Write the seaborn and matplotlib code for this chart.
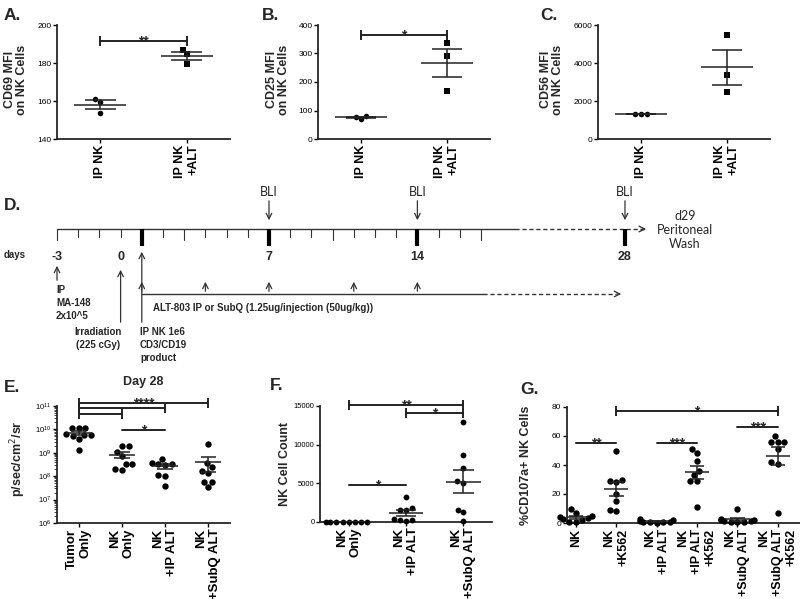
import numpy as np
import pandas as pd
import matplotlib
matplotlib.use('Agg')
import matplotlib.pyplot as plt
import seaborn as sns

# ---- data ----
ab_groups = ['IP NK', 'IP NK\n+ALT']
cd69_ctrl = [160.9, 159.7, 153.6]
cd69_alt = [187.0, 184.9, 179.7]
cd25_ctrl = [79, 70, 78]
cd25_alt = [336, 291, 170]
cd56_ctrl = [1300, 1290, 1310]
cd56_alt = [5480, 3360, 2450]

e_groups = ['Tumor\nOnly', 'NK\nOnly', 'NK\n+IP ALT', 'NK\n+SubQ ALT']
bli_tumor = [1.15e10, 1.1e10, 1.2e10, 5.5e9, 5.8e9, 6.2e9, 5.2e9, 4.0e9, 1.3e9]
bli_nk = [1.9e9, 1.9e9, 1.1e9, 7.5e8, 3.2e8, 3.2e8, 1.9e8, 2.0e8]
bli_ip = [5.5e8, 3.3e8, 3.2e8, 3.1e8, 3.5e8, 1.1e8, 1.0e8, 3.7e7]
bli_subq = [2.3e9, 3.7e8, 2.4e8, 1.6e8, 1.4e8, 5.5e7, 5.5e7, 3.3e7]

f_groups = ['NK\nOnly', 'NK\n+IP ALT', 'NK\n+SubQ ALT']
count_nk = [0, 0, 0, 0, 0, 0, 0, 0]
count_ip = [3200, 1600, 1600, 1750, 200, 100, 200, 450]
count_subq = [12930, 8660, 6940, 5040, 5260, 1600, 1290, 90]

g_groups = ['NK', 'NK\n+K562', 'NK\n+IP ALT', 'NK\n+IP ALT\n+K562',
            'NK\n+SubQ ALT', 'NK\n+SubQ ALT\n+K562']
cd107_nk = [10, 7, 4.5, 4, 3.5, 3, 2, 1, 0.5]
cd107_nk_k = [50, 30, 29, 28, 20, 15, 9, 8]
cd107_ip = [3, 2, 1.5, 1, 1, 0.5, 0.5, 0.3]
cd107_ip_k = [51, 48, 43, 36, 33, 29, 29, 11]
cd107_sq = [10, 2.5, 2, 2, 1.5, 1.5, 1, 1, 0.5]
cd107_sq_k = [60, 56, 56, 56, 51, 42, 41, 7]

# timeline
tick_days = list(range(-3, 18))
thick_days = [1, 7, 14]
tall_days = [-3, 3, 10, 17]
alt_days = [1, 4, 7, 11, 14]

sns.set_style('ticks')
plt.rcParams['font.family'] = ['Liberation Sans', 'DejaVu Sans']

W, H = 800, 599
fig = plt.figure(figsize=(8, 5.99), dpi=100)


def px_axes(l, t, r, b):
    return fig.add_axes([l / W, 1 - b / H, (r - l) / W, (b - t) / H])


def mean_sem(ax, vals, i, hw=0.3, cw=0.18):
    m = np.mean(vals)
    s = np.std(vals, ddof=1) / np.sqrt(len(vals))
    ax.hlines(m, i - hw, i + hw, color='#222222', lw=1.1, zorder=4)
    ax.vlines(i, m - s, m + s, color='#222222', lw=1.1, zorder=4)
    ax.hlines([m - s, m + s], i - cw, i + cw, color='#222222', lw=1.1, zorder=4)


def dot_panel(ax, groups, series, markers, size, log=False):
    df = pd.DataFrame({'group': np.repeat(groups, [len(s) for s in series]),
                       'value': np.concatenate(series)})
    for g, m in zip(groups, markers):
        sns.swarmplot(data=df[df.group == g], x='group', y='value', order=groups,
                      marker=m, color='k', size=size, ax=ax, clip_on=False,
                      log_scale=(False, True) if log else None, zorder=3)
    for i, s in enumerate(series):
        mean_sem(ax, s, i)


def style(ax, groups, fs_x=9, fs_y=6):
    sns.despine(ax=ax)
    for sp in ['left', 'bottom']:
        ax.spines[sp].set_linewidth(1.3)
    ax.set_xticks(range(len(groups)))
    ax.set_xticklabels(groups, rotation=90, fontsize=fs_x, fontweight='bold')
    for lab in ax.get_xticklabels():
        lab.set_multialignment('right')
    ax.tick_params(axis='both', length=3, width=1, colors='k', pad=1)
    ax.tick_params(axis='y', labelsize=fs_y)
    ax.set_xlabel('')


def bracket(ax, x1, x2, y, text, caps=True, fs=10):
    ax.plot([x1, x2], [y, y], color='#222222', lw=1.4, clip_on=False,
            marker='|' if caps else None, markersize=7, mew=1.4, zorder=5)
    if text:
        ax.annotate(text, ((x1 + x2) / 2, y), xytext=(0, -3.2), textcoords='offset points',
                    ha='center', va='baseline', fontsize=fs, fontweight='bold',
                    annotation_clip=False)


# ---- A, B, C ----
top_specs = [
    (57, 230, cd69_ctrl, cd69_alt, (140, 200), [140, 160, 180, 200], 'CD69 MFI\non NK Cells', '**', 191.7, -0.165),
    (318, 490, cd25_ctrl, cd25_alt, (0, 400), [0, 100, 200, 300, 400], 'CD25 MFI\non NK Cells', '*', 365, -0.165),
    (598, 770, cd56_ctrl, cd56_alt, (0, 6000), [0, 2000, 4000, 6000], 'CD56 MFI\non NK Cells', None, None, -0.2),
]
for l, r, ctrl, alt, ylim, yt, ylab, star, sy, lx in top_specs:
    ax = px_axes(l, 25, r, 139)
    dot_panel(ax, ab_groups, [ctrl, alt], ['o', 's'], 4)
    ax.set_ylim(*ylim)
    ax.set_yticks(yt)
    ax.set_xlim(-0.5, 1.5)
    style(ax, ab_groups)
    ax.set_ylabel(ylab, fontsize=9, fontweight='bold', linespacing=1.0)
    ax.yaxis.set_label_coords(lx, 0.52)
    if star:
        bracket(ax, 0, 1, sy, star)

# ---- E ----
ax = px_axes(57, 406, 230, 523)
dot_panel(ax, e_groups, [bli_tumor, bli_nk, bli_ip, bli_subq], ['o'] * 4, 4.6, log=True)
ax.set_ylim(1e6, 1e11)
ax.set_xlim(-0.5, 3.5)
style(ax, e_groups, fs_x=9.5, fs_y=5.5)
ax.tick_params(axis='y', which='minor', length=2, width=0.6)
ax.set_ylabel('p/sec/cm$^2$/sr', fontsize=9, fontweight='bold')
ax.yaxis.set_label_coords(-0.17, 0.55)
bracket(ax, 0, 3, 1.4e11, '****')
bracket(ax, 0, 2, 8e10, None)
bracket(ax, 0, 1, 4.4e10, None)
bracket(ax, 1, 2, 9.4e9, '*', caps=False)

# ---- F ----
ax = px_axes(320, 406, 492, 522)
dot_panel(ax, f_groups, [count_nk, count_ip, count_subq], ['o'] * 3, 4.2)
ax.set_ylim(0, 15000)
ax.set_yticks([0, 5000, 10000, 15000])
ax.set_xlim(-0.5, 2.5)
style(ax, f_groups, fs_x=9.5, fs_y=5.5)
ax.set_ylabel('NK Cell Count', fontsize=9, fontweight='bold')
ax.yaxis.set_label_coords(-0.17, 0.5)
bracket(ax, 0, 2, 15100, '**')
bracket(ax, 1, 2, 14150, '*')
bracket(ax, 0, 1, 4750, '*', caps=False)

# ---- G ----
ax = px_axes(567, 407, 800, 523)
dot_panel(ax, g_groups, [cd107_nk, cd107_nk_k, cd107_ip, cd107_ip_k, cd107_sq, cd107_sq_k],
          ['o'] * 6, 4.6)
ax.set_ylim(0, 80)
ax.set_yticks([0, 20, 40, 60, 80])
ax.set_xlim(-0.22, 5.55)
style(ax, g_groups, fs_x=9, fs_y=6)
ax.set_ylabel('%CD107a+ NK Cells', fontsize=9, fontweight='bold')
ax.yaxis.set_label_coords(-0.15, 0.5)
bracket(ax, 1, 5, 77, '*')
bracket(ax, 0, 1, 55.5, '**', caps=False)
bracket(ax, 2, 3, 55.5, '***', caps=False)
bracket(ax, 4, 5, 66, '***', caps=False)

# ---- overlay: letters + timeline D ----
ov = fig.add_axes([0, 0, 1, 1], zorder=-1)
ov.set_xlim(0, W)
ov.set_ylim(H, 0)
ov.axis('off')

for lx, ly, letter in [(4, 15, 'A.'), (262, 15, 'B.'), (540, 15, 'C.'), (4, 205, 'D.'),
                       (4, 388, 'E.'), (270, 385, 'F.'), (520, 390, 'G.')]:
    ov.text(lx, ly, letter, fontsize=12.5, fontweight='bold', va='center', ha='left')
ov.text(143, 382, 'Day 28', fontsize=9, fontweight='bold', ha='center', va='center')


def dx(d):
    return 57 + (d + 3) * 21.2


x28 = 625
y0 = 229
ov.plot([dx(-3), 515], [y0, y0], color='#333333', lw=1)
ov.plot([515, 645], [y0, y0], color='#333333', lw=1, ls=(0, (3, 2)))
ov.annotate('', xy=(649, y0), xytext=(640, y0),
            arrowprops=dict(arrowstyle='->', lw=1, color='#333333'))
for d in tick_days:
    if d in thick_days:
        continue
    ov.plot([dx(d), dx(d)], [y0, y0 + (11 if d in tall_days else 8)], color='#333333', lw=0.8)
for x in [dx(d) for d in thick_days] + [x28]:
    ov.plot([x, x], [y0, y0 + 17], color='k', lw=3, solid_capstyle='butt')
for x in [dx(7), dx(14), x28]:
    ov.text(x, 192, 'BLI', fontsize=9, ha='center', va='center', family='Lato')
    ov.annotate('', xy=(x, 223), xytext=(x, 198),
                arrowprops=dict(arrowstyle='->', lw=0.9, color='#333333'))
for d, lab in [(-3, '-3'), (0, '0'), (7, '7'), (14, '14')]:
    ov.text(dx(d), 257, lab, fontsize=9, fontweight='bold', ha='center', va='center')
ov.text(x28, 257, '28', fontsize=9, fontweight='bold', ha='center', va='center')
ov.text(4, 255, 'days', fontsize=7, fontweight='bold', ha='left', va='center')
ov.text(685, 230, 'd29\nPeritoneal\nWash', fontsize=9, ha='center', va='center',
        linespacing=1.25, family='Lato')

arrow = dict(arrowstyle='->', lw=0.9, color='#333333')
ov.annotate('', xy=(dx(-3), 263), xytext=(dx(-3), 283), arrowprops=arrow)
ov.text(dx(-3) - 1, 285, 'IP\nMA-148\n2x10^5', fontsize=7, fontweight='bold',
        ha='left', va='top', linespacing=1.35)
ov.annotate('', xy=(dx(0), 267), xytext=(dx(0), 325), arrowprops=arrow)
ov.text(98, 327, 'Irradiation\n(225 cGy)', fontsize=7, fontweight='bold',
        ha='center', va='top', linespacing=1.35)
ov.annotate('', xy=(dx(1), 249), xytext=(dx(1), 325), arrowprops=arrow)
ov.text(140, 327, 'IP NK 1e6\nCD3/CD19\nproduct', fontsize=7, fontweight='bold',
        ha='left', va='top', linespacing=1.35)

ov.plot([dx(1), 483], [294, 294], color='#333333', lw=1)
ov.plot([483, 616], [294, 294], color='#333333', lw=1, ls=(0, (3, 2)))
ov.annotate('', xy=(624, 294), xytext=(614, 294), arrowprops=arrow)
for d in alt_days:
    ov.annotate('', xy=(dx(d), 279), xytext=(dx(d), 294), arrowprops=arrow)
ov.text(153, 308, 'ALT-803 IP or SubQ (1.25ug/injection (50ug/kg))', fontsize=7,
        fontweight='bold', ha='left', va='center')

fig.savefig('out.png', dpi=100)
